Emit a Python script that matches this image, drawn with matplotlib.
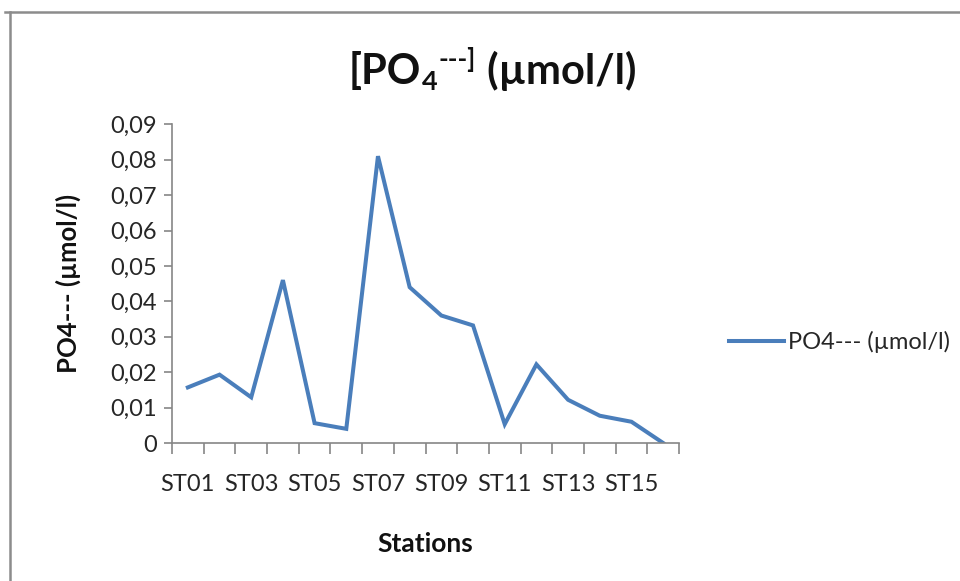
import matplotlib
matplotlib.use("Agg")
import matplotlib.pyplot as plt
from matplotlib.ticker import FixedLocator, FuncFormatter
from matplotlib.lines import Line2D
import numpy as np

stations = [f"ST{i:02d}" for i in range(1, 17)]
po4 = [0.0157, 0.0193, 0.0129, 0.0460, 0.0056, 0.0040, 0.0810, 0.0440,
       0.0360, 0.0332, 0.0053, 0.0222, 0.0122, 0.0077, 0.0060, 0.0000]
yticks = [0, 0.01, 0.02, 0.03, 0.04, 0.05, 0.06, 0.07, 0.08, 0.09]
series_name = "PO4--- (µmol/l)"

plt.rcParams['font.family'] = ['Lato', 'DejaVu Sans']

W, H = 960, 581
fig = plt.figure(figsize=(W / 100, H / 100), dpi=100)
fig.patch.set_facecolor('white')

# outer chart frame (only top and left visible)
gray_frame = '#8c8c8c'
fig.add_artist(Line2D([5 / W, 1], [1 - 12 / H, 1 - 12 / H], color=gray_frame, lw=1.8, transform=fig.transFigure))
fig.add_artist(Line2D([10 / W, 10 / W], [0, 1 - 12 / H], color=gray_frame, lw=1.8, transform=fig.transFigure))

ax = fig.add_axes([172 / W, 1 - 443 / H, (679 - 172) / W, (443 - 124.3) / H])
x = np.arange(len(stations))
line, = ax.plot(x, po4, color='#4a7ebb', lw=2.9, solid_joinstyle='miter')

ax.set_xlim(-0.5, len(stations) - 0.5)
ax.set_ylim(0, 0.09)
axis_col = '#868686'
for s in ['top', 'right']:
    ax.spines[s].set_visible(False)
for s in ['left', 'bottom']:
    ax.spines[s].set_color(axis_col)
    ax.spines[s].set_linewidth(1.2)

txt_col = '#262626'
ax.yaxis.set_major_locator(FixedLocator(yticks))
ax.yaxis.set_major_formatter(FuncFormatter(lambda v, p: "0" if v == 0 else f"{v:.2f}".replace('.', ',')))
ax.tick_params(axis='y', direction='out', length=6, width=1.2, color=axis_col, labelsize=17, labelcolor=txt_col, pad=5)

ax.xaxis.set_major_locator(FixedLocator(np.arange(-0.5, len(stations), 1.0)))
ax.xaxis.set_major_formatter(FuncFormatter(lambda v, p: ""))
ax.set_xticks(x[::2], minor=True)
ax.set_xticklabels(stations[::2], minor=True)
ax.tick_params(axis='x', which='major', direction='out', length=8, width=1.2, color=axis_col)
ax.tick_params(axis='x', which='minor', length=0, labelsize=17, labelcolor=txt_col, pad=22)

ax.set_xlabel("Stations", fontsize=19, fontweight='bold', labelpad=27, color='#111111')
ax.set_ylabel(series_name, fontsize=18.5, fontweight='bold', labelpad=21, color='#111111')

# title built from pieces so the charge signs stay plain hyphens
renderer = fig.canvas.get_renderer()
title_size = 30
base_y = 1 - 84 / H
pieces = [("[PO", title_size, 0), ("4", title_size * 0.65, -6), ("---]", title_size * 0.62, 16),
          (" (µmol/l)", title_size, 0)]
texts = []
xpos = 0.0
for s, fs, dy in pieces:
    t = fig.text(xpos, base_y + dy / H, s, fontsize=fs, fontweight='bold', color='#111111',
                 ha='left', va='baseline')
    bb = t.get_window_extent(renderer)
    texts.append(t)
    xpos += bb.width / W + 1.0 / W
total = xpos
x0 = 493 / W - total / 2
for t in texts:
    px, py = t.get_position()
    t.set_position((px + x0, py))

fig.legend([line], [series_name], loc='center left', bbox_to_anchor=(720 / W, 1 - 342 / H),
           frameon=False, fontsize=17, handlelength=2.3, handletextpad=0.2, borderaxespad=0,
           labelcolor=txt_col)

fig.savefig("out.png", dpi=100)
